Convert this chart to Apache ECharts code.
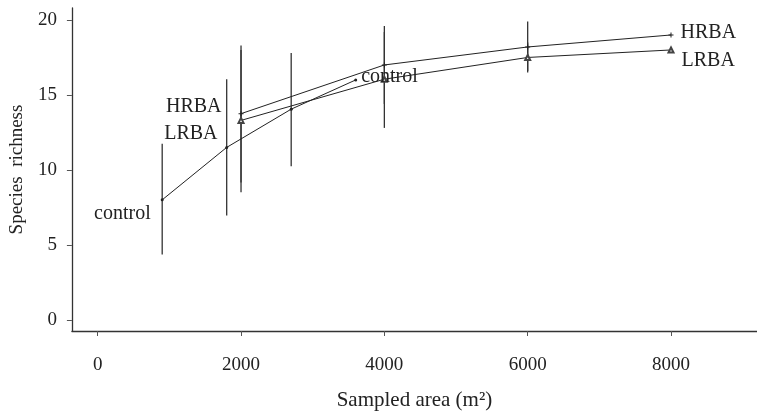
<!DOCTYPE html>
<html>
<head>
<meta charset="utf-8">
<script src="https://cdn.jsdelivr.net/npm/echarts@6/dist/echarts.min.js"></script>
<style>
html,body{margin:0;padding:0;background:#fff;}
#chart{width:757px;height:416px;}
</style>
</head>
<body>
<div id="chart"></div>
<script>
// ---- data ----
const controlArea = [900, 1800, 2700, 3600];
const controlRich = [8.0, 11.5, 14.05, 16.0];
const controlLow  = [4.35, 6.95, 10.25, null];
const controlHigh = [11.75, 16.05, 17.8, null];

const hrbaArea = [2000, 4000, 6000, 8000];
const hrbaRich = [13.75, 17.0, 18.2, 19.0];
const hrbaLow  = [9.15, 14.4, 16.5, null];
const hrbaHigh = [18.3, 19.2, 19.9, null];

const lrbaArea = [2000, 4000, 6000, 8000];
const lrbaRich = [13.3, 16.05, 17.5, 18.0];
const lrbaLow  = [8.5, 12.8, 16.6, null];
const lrbaHigh = [18.0, 19.6, 18.5, null];

const xTicks = [0, 2000, 4000, 6000, 8000];
const yTicks = [0, 5, 10, 15, 20];

const FONT = '"Liberation Serif", "DejaVu Serif", serif';
const INK = '#222';

function pts(xs, ys) { return xs.map((x, i) => [x, ys[i]]); }
function bars(xs, lo, hi) {
  const out = [];
  xs.forEach((x, i) => { if (lo[i] != null && hi[i] != null) out.push([x, lo[i], hi[i]]); });
  return out;
}
function errSeries(data) {
  return {
    type: 'custom',
    data: data,
    silent: true,
    z: 1,
    renderItem: function (params, api) {
      const a = api.coord([api.value(0), api.value(1)]);
      const b = api.coord([api.value(0), api.value(2)]);
      return { type: 'line', shape: { x1: a[0], y1: a[1], x2: b[0], y2: b[1] },
               style: { stroke: '#333', lineWidth: 1.3 } };
    }
  };
}
function lab(text, position, offset) {
  return { show: true, formatter: text, position: position, offset: offset, distance: 5,
           fontFamily: FONT, fontSize: 20, color: INK };
}
function withLabels(data, first, last) {
  return data.map((p, i) => {
    if (i === 0 && first) return { value: p, label: first };
    if (i === data.length - 1 && last) return { value: p, label: last };
    return { value: p };
  });
}

const chart = echarts.init(document.getElementById('chart'), null, { renderer: 'canvas' });
chart.setOption({
  animation: false,
  backgroundColor: '#fff',
  grid: { left: 70, right: 0, top: 8, bottom: 80, containLabel: false },
  xAxis: {
    type: 'value', min: -360, max: 9200,
    name: 'Sampled area (m²)', nameLocation: 'middle', nameGap: 59,
    nameTextStyle: { fontFamily: FONT, fontSize: 21, color: INK },
    axisLine: { show: true, onZero: false, lineStyle: { color: '#333', width: 1.3 } },
    axisTick: { show: true, customValues: xTicks, length: 5, lineStyle: { color: '#555' } },
    axisLabel: { customValues: xTicks, margin: 25, fontFamily: FONT, fontSize: 19, color: INK,
                 formatter: function (v) { return String(v); } },
    splitLine: { show: false }
  },
  yAxis: {
    type: 'value', min: -0.75, max: 20.8,
    name: 'Species  richness', nameLocation: 'middle', nameGap: 39,
    nameTextStyle: { fontFamily: FONT, fontSize: 19, color: INK },
    axisLine: { show: true, onZero: false, lineStyle: { color: '#333', width: 1.3 } },
    axisTick: { show: true, customValues: yTicks, length: 5, lineStyle: { color: '#555' } },
    axisLabel: { customValues: yTicks, margin: 15, fontFamily: FONT, fontSize: 19, color: INK },
    splitLine: { show: false }
  },
  series: [
    errSeries(bars(controlArea, controlLow, controlHigh)),
    errSeries(bars(hrbaArea, hrbaLow, hrbaHigh)),
    errSeries(bars(lrbaArea, lrbaLow, lrbaHigh)),
    {
      type: 'line', name: 'control', z: 3,
      data: withLabels(pts(controlArea, controlRich),
                       lab('control', 'left', [-5, 14]),
                       lab('control', 'right', [-1, -3])),
      symbol: 'circle', symbolSize: 3,
      lineStyle: { color: INK, width: 1 }, itemStyle: { color: INK }
    },
    {
      type: 'line', name: 'HRBA', z: 3,
      data: withLabels(pts(hrbaArea, hrbaRich),
                       lab('HRBA', 'left', [-12, -7]),
                       lab('HRBA', 'right', [2, -2])),
      symbol: 'path://M4,0H6V4H10V6H6V10H4V6H0V4H4Z', symbolSize: 5,
      lineStyle: { color: INK, width: 1 }, itemStyle: { color: INK }
    },
    {
      type: 'line', name: 'LRBA', z: 3,
      data: withLabels(pts(lrbaArea, lrbaRich),
                       lab('LRBA', 'left', [-15, 13]),
                       lab('LRBA', 'right', [2, 11])),
      symbol: 'emptyTriangle', symbolSize: 5,
      lineStyle: { color: INK, width: 1 },
      itemStyle: { color: '#444', borderWidth: 0.6 }
    }
  ]
});
</script>
</body>
</html>
